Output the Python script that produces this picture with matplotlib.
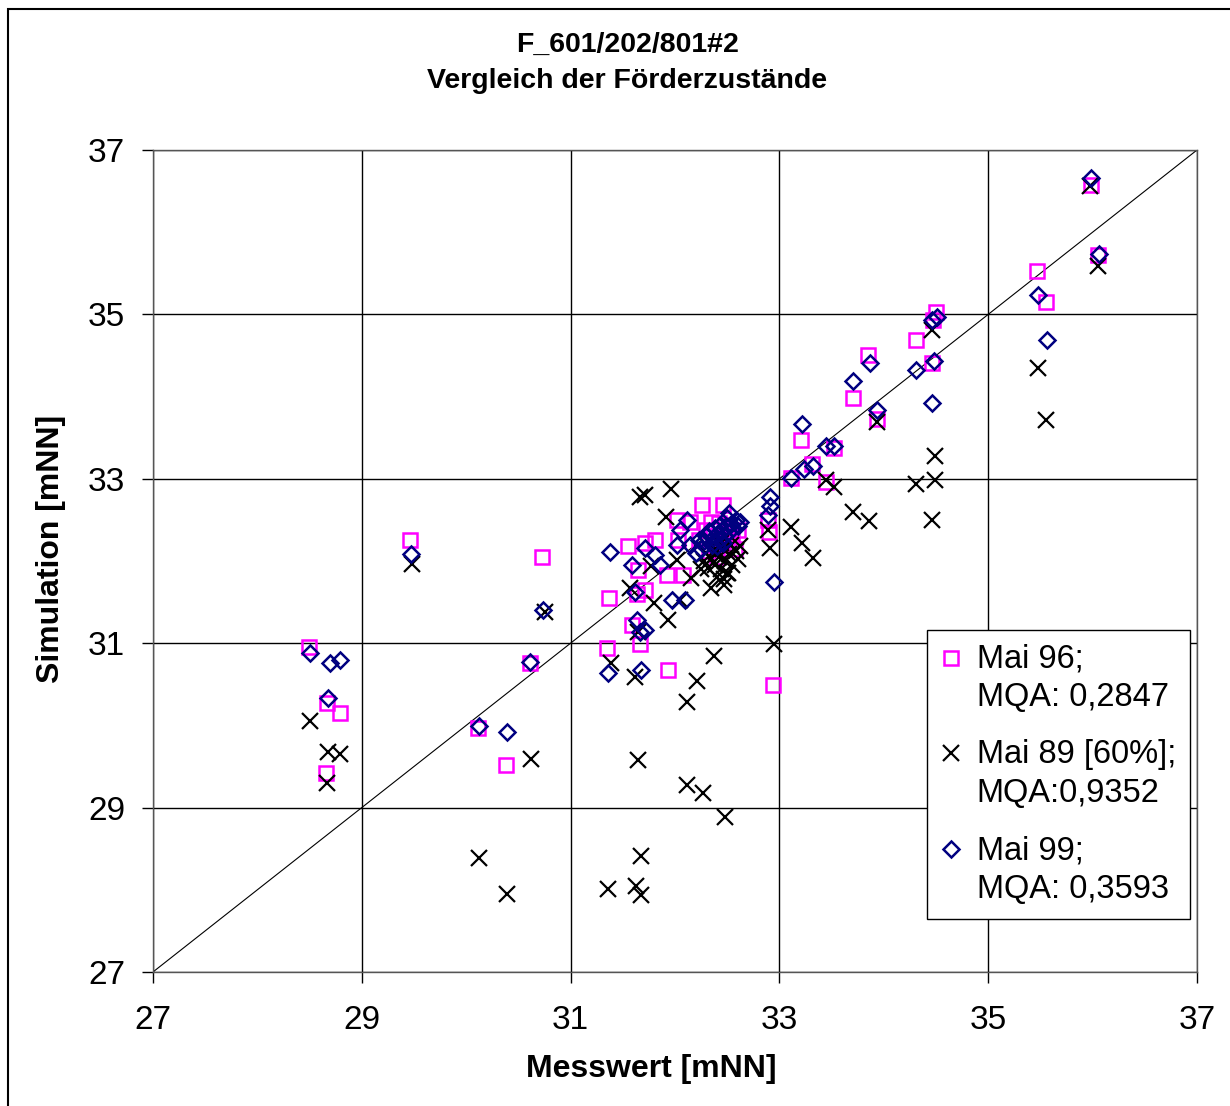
"""
Vergleich der Förderzustände: Messwert gegen Simulation (F_601/202/801#2).
"""

import matplotlib
matplotlib.use("Agg")
import matplotlib.pyplot as plt
from matplotlib.patches import Rectangle
from matplotlib.legend_handler import HandlerLine2D

plt.rcParams["font.family"] = ["Liberation Sans", "DejaVu Sans"]

# Mai 96 (Quadrate, magenta)
mai96_x = [28.49, 28.67, 28.79, 28.66, 29.46, 30.11, 30.38, 30.61, 30.73, 31.37,
           31.35, 31.59, 31.66, 31.93, 32.94, 31.55, 31.71, 31.81, 31.65, 31.64,
           31.71, 31.92, 32.02, 32.26, 32.46, 32.14, 32.23, 32.03, 32.08, 32.34,
           32.43, 32.53, 32.89, 32.90, 33.11, 33.21, 33.31, 33.45, 33.52, 33.70,
           33.85, 33.93, 34.31, 34.46, 34.50, 34.47, 35.47, 35.55, 35.98, 36.05,
           32.30, 32.36, 32.42, 32.48, 32.52, 32.38, 32.45, 32.55, 32.60, 32.33,
           32.50, 32.40, 32.57]
mai96_y = [30.95, 30.27, 30.15, 29.42, 32.26, 29.97, 29.52, 30.76, 32.05, 31.55,
           30.94, 31.22, 30.99, 30.67, 30.49, 32.18, 32.22, 32.26, 31.89, 31.60,
           31.65, 31.83, 32.50, 32.68, 32.68, 32.48, 32.26, 32.26, 31.83, 32.48,
           32.38, 32.26, 32.50, 32.35, 33.01, 33.47, 33.18, 32.96, 33.37, 33.98,
           34.51, 33.73, 34.69, 34.41, 35.03, 34.93, 35.53, 35.15, 36.57, 35.72,
           32.38, 32.30, 32.46, 32.34, 32.44, 32.20, 32.15, 32.30, 32.38, 32.12,
           32.22, 32.05, 32.15]

# Mai 89 [60%] (Kreuze, schwarz)
mai89_x = [28.50, 28.68, 28.79, 28.67, 29.48, 30.12, 30.39, 30.62, 30.75, 31.36,
           31.63, 31.67, 31.67, 31.65, 31.39, 31.62, 31.65, 32.11, 32.11, 32.27,
           32.48, 32.21, 32.37, 32.95, 31.66, 31.71, 31.96, 31.91, 31.57, 31.80,
           31.93, 32.05, 32.15, 32.02, 31.77, 32.34, 32.47, 32.51, 32.91, 32.89,
           33.11, 33.22, 33.32, 33.45, 33.52, 33.70, 33.86, 33.93, 34.31, 34.46,
           34.49, 34.49, 34.46, 35.48, 35.55, 35.97, 36.05,
           32.30, 32.34, 32.38, 32.40, 32.42, 32.44, 32.46, 32.48, 32.50, 32.52,
           32.55, 32.58, 32.60, 32.36, 32.44, 32.32, 32.40, 32.47, 32.54, 32.62,
           32.28, 32.25]
mai89_y = [30.05, 29.68, 29.65, 29.30, 31.96, 28.39, 27.95, 29.59, 31.38, 28.01,
           28.05, 27.94, 28.41, 29.58, 30.76, 30.59, 31.14, 30.28, 29.27, 29.18,
           28.89, 30.54, 30.84, 30.99, 32.78, 32.80, 32.88, 32.54, 31.67, 31.49,
           31.28, 31.53, 31.79, 32.01, 31.94, 31.67, 31.71, 31.85, 32.16, 32.38,
           32.41, 32.22, 32.04, 32.99, 32.90, 32.60, 32.49, 33.69, 32.94, 32.50,
           32.99, 33.28, 34.81, 34.35, 33.71, 36.56, 35.59,
           32.10, 32.02, 31.95, 32.12, 32.05, 31.90, 32.15, 32.00, 31.85, 32.08,
           31.95, 32.12, 32.02, 32.18, 32.22, 31.92, 31.80, 31.78, 32.20, 32.18,
           32.00, 31.90]

# Mai 99 (Rauten, dunkelblau)
mai99_x = [28.50, 28.70, 28.79, 28.68, 29.47, 30.12, 30.39, 30.61, 30.74, 31.38,
           31.36, 31.59, 31.62, 31.64, 31.66, 31.67, 31.71, 31.71, 31.81, 31.86,
           31.97, 32.10, 32.02, 32.11, 32.05, 32.14, 32.23, 32.95, 32.91, 32.91,
           32.89, 33.11, 33.22, 33.24, 33.32, 33.45, 33.52, 33.70, 33.87, 33.93,
           34.31, 34.46, 34.48, 34.46, 34.51, 35.48, 35.56, 35.98, 36.06,
           32.30, 32.33, 32.36, 32.38, 32.40, 32.42, 32.43, 32.45, 32.47, 32.49,
           32.50, 32.52, 32.54, 32.56, 32.58, 32.35, 32.40, 32.28, 32.46, 32.60,
           32.62, 32.52, 32.25, 32.20]
mai99_y = [30.88, 30.76, 30.80, 30.33, 32.09, 29.99, 29.92, 30.77, 31.40, 32.11,
           30.64, 31.95, 31.62, 31.28, 31.14, 30.67, 31.16, 32.16, 32.07, 31.95,
           31.53, 31.53, 32.19, 32.50, 32.38, 32.19, 32.26, 31.74, 32.78, 32.67,
           32.56, 33.01, 33.67, 33.12, 33.16, 33.40, 33.40, 34.19, 34.41, 33.84,
           34.32, 33.92, 34.43, 34.93, 34.97, 35.24, 34.69, 36.66, 35.73,
           32.30, 32.36, 32.28, 32.40, 32.33, 32.25, 32.44, 32.36, 32.30, 32.42,
           32.52, 32.35, 32.45, 32.40, 32.50, 32.20, 32.18, 32.24, 32.22, 32.42,
           32.48, 32.58, 32.15, 32.10]

labels = ["Mai 96;\nMQA: 0,2847", "Mai 89 [60%];\nMQA:0,9352", "Mai 99;\nMQA: 0,3593"]
ticks = [27, 29, 31, 33, 35, 37]


class HandlerErsteZeile(HandlerLine2D):
    """Setzt das Legendensymbol auf Höhe der ersten Textzeile."""

    def create_artists(self, legend, orig_handle, xdescent, ydescent,
                       width, height, fontsize, trans):
        shift = 0.66 * fontsize
        return super().create_artists(legend, orig_handle, xdescent,
                                      ydescent - 2 * shift, width, height,
                                      fontsize, trans)


fig = plt.figure(figsize=(12.30, 11.06), dpi=100)
ax = fig.add_axes([0.1244, 0.1212, 0.8488, 0.7432])

l96, = ax.plot(mai96_x, mai96_y, linestyle="none", marker="s", markersize=10,
               markerfacecolor="none", markeredgecolor="#FF00FF", markeredgewidth=1.8,
               label=labels[0])
l89, = ax.plot(mai89_x, mai89_y, linestyle="none", marker="x", markersize=12,
               color="black", markeredgewidth=1.6, label=labels[1])
l99, = ax.plot(mai99_x, mai99_y, linestyle="none", marker="D", markersize=8.5,
               markerfacecolor="none", markeredgecolor="#000080", markeredgewidth=1.8,
               label=labels[2])

# 1:1 Linie
ax.plot([27, 37], [27, 37], color="black", linewidth=0.8, zorder=1)

ax.set_xlim(27, 37)
ax.set_ylim(27, 37)
ax.set_xticks(ticks)
ax.set_yticks(ticks)
ax.tick_params(labelsize=24, direction="out", length=8, width=1)
ax.tick_params(axis="x", pad=16)
ax.tick_params(axis="y", pad=12)
ax.grid(True, color="black", linewidth=1)
ax.set_axisbelow(True)
for s in ax.spines.values():
    s.set_linewidth(1)
    s.set_color("#555555")

ax.set_xlabel("Messwert [mNN]", fontsize=23, fontweight="bold")
ax.xaxis.set_label_coords(0.477, -0.1)
ax.set_ylabel("Simulation [mNN]", fontsize=23, fontweight="bold")
ax.yaxis.set_label_coords(-0.083, 0.515)

fig.text(0.51, 0.959, "F_601/202/801#2", ha="center", va="center",
         fontsize=20.5, fontweight="bold")
fig.text(0.51, 0.927, "Vergleich der Förderzustände", ha="center", va="center",
         fontsize=20.5, fontweight="bold")

hmap = {l96: HandlerErsteZeile(), l89: HandlerErsteZeile(), l99: HandlerErsteZeile()}
leg = ax.legend(loc="upper left", bbox_to_anchor=(0.7537, 0.4304),
                bbox_transform=fig.transFigure, fontsize=23.5, frameon=True,
                fancybox=False, edgecolor="black", framealpha=1,
                handlelength=0.6, handletextpad=0.5, borderpad=0.42,
                labelspacing=0.8, borderaxespad=0, handler_map=hmap)
leg.get_frame().set_linewidth(1)
for t in leg.get_texts():
    t.set_linespacing(1.32)

# Rahmen um die Grafik (rechts/unten abgeschnitten wie im Original)
fig.patches.append(Rectangle((0.0065, -0.01), 1.0, 1.002, transform=fig.transFigure,
                             fill=False, edgecolor="black", linewidth=1.5))

fig.savefig("out.png", dpi=100)
